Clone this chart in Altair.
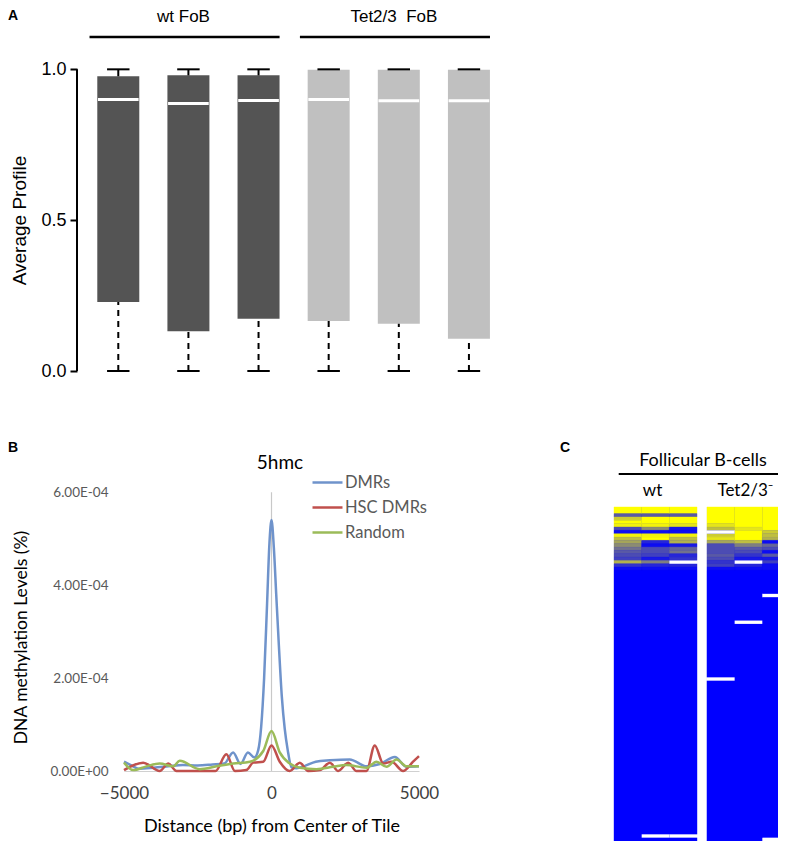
import altair as alt
import pandas as pd

# ---------------- Panel A : box summaries ----------------
box_groups = ["wt FoB", "wt FoB", "wt FoB", "Tet2/3\u00a0\u00a0FoB", "Tet2/3\u00a0\u00a0FoB", "Tet2/3\u00a0\u00a0FoB"]
box_min = [0.0, 0.0, 0.0, 0.0, 0.0, 0.0]
box_q1 = [0.229, 0.132, 0.173, 0.166, 0.157, 0.107]
box_median = [0.900, 0.887, 0.897, 0.900, 0.896, 0.896]
box_q3 = [0.977, 0.980, 0.980, 0.999, 0.999, 0.999]
box_max = [1.0, 1.0, 1.0, 1.0, 1.0, 1.0]
group_order = ["wt FoB", "Tet2/3\u00a0\u00a0FoB"]

# ---------------- Panel B : 5hmc profiles (values in units of 1e-4) ----------------
dmrs_x = [-5000, -4750, -4500, -4000, -3500, -3000, -2500, -2000, -1600, -1300, -1050, -800, -580,
          -450, -350, -250, -150, -70, 0, 80, 160, 250, 350, 450, 550, 680, 850, 1100, 1500, 1980,
          2650, 3220, 3670, 4180, 4580, 5000]
dmrs_v = [0.20, 0.12, 0.05, 0.07, 0.10, 0.13, 0.12, 0.14, 0.16, 0.40, 0.15, 0.40, 0.29,
          0.45, 0.95, 2.0, 3.6, 4.9, 5.4, 4.8, 3.8, 2.7, 1.6, 0.9, 0.45, 0.08, 0.06, 0.10, 0.20, 0.23,
          0.25, 0.10, 0.15, 0.30, 0.09, 0.10]
hsc_x = [-5000, -4350, -3790, -3500, -3220, -2500, -1900, -1530, -1240, -850, -620, -280, 0, 280,
         620, 960, 1240, 1640, 1980, 2260, 2600, 2880, 3220, 3500, 3790, 4070, 4460, 4800, 5000]
hsc_v = [0.02, 0.18, 0.00, 0.16, 0.00, 0.00, 0.00, 0.36, 0.00, 0.02, 0.18, 0.20, 0.55, 0.20,
         0.00, 0.18, 0.00, 0.02, 0.18, 0.00, 0.18, 0.00, 0.00, 0.55, 0.16, 0.20, 0.00, 0.20, 0.32]
rnd_x = [-5000, -4690, -4240, -3790, -3330, -3110, -2430, -1860, -1300, -730, -280, 0, 280, 620,
         960, 1525, 2090, 2540, 3220, 3560, 3900, 4240, 4580, 5000]
rnd_v = [0.18, 0.02, 0.10, 0.16, 0.10, 0.22, 0.04, 0.10, 0.16, 0.20, 0.43, 0.86, 0.40, 0.16,
         0.07, 0.04, 0.09, 0.13, 0.07, 0.20, 0.09, 0.25, 0.10, 0.10]
series_order = ["DMRs", "HSC DMRs", "Random"]

# ---------------- Panel C : heatmap (top rows read cell by cell, None = white) ----------------
heat_groups = ["wt", "Tet2/3\u207b"]
wt_c1 = [1, 1, 0.35, 0.8, 1, 0.95, 0.3, 0.05, 0.95, 0.75, 0.65, 0.55, 0.45, 0.35, 0.3, 0.25, 0.7, 0.2, 0.05]
wt_c2 = [1, 1, 0.35, 1, 1, 0.95, 0.55, 0.05, 0.95, 1, 0.15, 0.05, 0.3, 0.3, 0.25, 0.1, 0.5, 0.15, 0.05]
wt_c3 = [1, 1, 0.35, 1, 1, 0.9, 0.1, 0.05, 0.95, 0.75, 0.7, 0.1, 0.4, 0.45, 0.15, 0.2, None, 0.15, 0.05]
tet_c1 = [1, 1, 1, 1, 1, 0.9, 0.75, None, 0.8, 0.9, 0.65, 0.3, 0.3, 0.3, 0.35, 0.3, 0.2, 0.25, 0.05]
tet_c2 = [1, 1, 1, 1, 1, 1, 0.9, 1, 1, 1, 0.75, 0.5, 0.35, 0.3, 0.2, 0.1, None, 0.15, 0.05]
tet_c3 = [1, 1, 1, 1, 1, 1, 1, 0.8, 0.75, 0.7, 0.05, 0.4, 0.3, 0.05, 0.35, 0.1, 0.25, 0.05, 0.05]
n_rows = 100
lower_value = 0.0   # every remaining row is plain blue
white_cells = [("Tet2/3\u207b", 2, 26), ("Tet2/3\u207b", 1, 34), ("Tet2/3\u207b", 0, 51),
               ("wt", 1, 98), ("wt", 2, 98), ("Tet2/3\u207b", 2, 99)]

# ======================= build panel A =======================
dfA = pd.DataFrame({"group": box_groups, "lo": box_min, "q1": box_q1, "med": box_median,
                    "q3": box_q3, "hi": box_max, "pos": list(range(1, 7))})
gA = dfA.groupby("group", sort=False)["pos"].agg(["min", "max"]).reset_index()
gA["center"] = (gA["min"] + gA["max"]) / 2 - 0.07
gA["start"] = gA["min"] - 0.41
gA["end"] = gA["max"] + 0.3

# the plot origin is shared with panel B below; the y axis is pushed out with an offset
AX_OFF = 47
STEP = 72
xsA = alt.Scale(domain=[0.5 + AX_OFF / STEP, 6.5], nice=False, zero=False)
ysA = alt.Scale(domain=[0, 1.2], nice=False, zero=False)
YT = "Average Profile"
FA = "Liberation Sans"
WA = int(round((6.5 - 0.5) * STEP - AX_OFF))

baseA = alt.Chart(dfA)
barsA = baseA.mark_bar(size=42).encode(
    x=alt.X("pos:Q", scale=xsA, axis=None),
    y=alt.Y("q1:Q", scale=ysA, title=YT,
            axis=alt.Axis(values=[0, 0.5, 1.0], format=".1f", domain=False, grid=False,
                          offset=AX_OFF,
                          tickSize=7, tickWidth=2, tickColor="black",
                          labelFontSize=18, labelColor="black", labelFont=FA, labelPadding=4,
                          titleFont=FA, titleFontSize=19, titleFontWeight="normal",
                          titleColor="black", titleY=211, titleX=-48)),
    y2="q3:Q",
    color=alt.Color("group:N", scale=alt.Scale(domain=group_order, range=["#545454", "#c0c0c0"]),
                    legend=None),
)
medA = baseA.transform_calculate(xl="datum.pos - 0.29", xr="datum.pos + 0.29").mark_rule(
    color="white", strokeWidth=3).encode(
    x=alt.X("xl:Q", scale=xsA, axis=None), x2="xr:Q", y=alt.Y("med:Q", scale=ysA, title=YT))
upA = baseA.mark_rule(color="black", strokeWidth=2).encode(
    x=alt.X("pos:Q", scale=xsA, axis=None), y=alt.Y("q3:Q", scale=ysA, title=YT), y2="hi:Q")
downA = baseA.mark_rule(color="black", strokeWidth=2, strokeDash=[6, 5]).encode(
    x=alt.X("pos:Q", scale=xsA, axis=None), y=alt.Y("lo:Q", scale=ysA, title=YT), y2="q1:Q")
capsBase = baseA.transform_calculate(cl="datum.pos - 0.16", cr="datum.pos + 0.16")
capTop = capsBase.mark_rule(color="black", strokeWidth=2).encode(
    x=alt.X("cl:Q", scale=xsA, axis=None), x2="cr:Q", y=alt.Y("hi:Q", scale=ysA, title=YT))
capBot = capsBase.mark_rule(color="black", strokeWidth=2).encode(
    x=alt.X("cl:Q", scale=xsA, axis=None), x2="cr:Q", y=alt.Y("lo:Q", scale=ysA, title=YT))
axisLineA = alt.Chart(pd.DataFrame({"a": [0.0], "b": [1.0]})).mark_rule(
    color="black", strokeWidth=2).encode(
    x=alt.value(-AX_OFF), y=alt.Y("a:Q", scale=ysA, title=YT), y2="b:Q")
headTextA = alt.Chart(gA).mark_text(font=FA, fontSize=17, baseline="top", color="black").encode(
    x=alt.X("center:Q", scale=xsA, axis=None), y=alt.value(0), text="group:N")
headLineA = alt.Chart(gA).mark_rule(color="black", strokeWidth=2.5).encode(
    x=alt.X("start:Q", scale=xsA, axis=None), x2="end:Q", y=alt.value(28))
letterA = alt.Chart(pd.DataFrame({"t": ["A"]})).mark_text(
    font="Liberation Sans", fontSize=14, fontWeight="bold", baseline="top", align="left").encode(
    x=alt.value(-116), y=alt.value(0), text="t:N")

chartA = alt.layer(barsA, medA, upA, downA, capTop, capBot, axisLineA,
                   headTextA, headLineA, letterA).properties(width=WA, height=362)

# ======================= build panel B =======================
rows = []
for name, xs, vs in [("DMRs", dmrs_x, dmrs_v), ("HSC DMRs", hsc_x, hsc_v), ("Random", rnd_x, rnd_v)]:
    for xv, vv in zip(xs, vs):
        rows.append({"series": name, "x": xv, "v": vv * 1e-4})
dfB = pd.DataFrame(rows)

FB = "Lato"
xsB = alt.Scale(domain=[-5000, 5000], nice=False, zero=False)
ysB = alt.Scale(domain=[0, 7.1e-4], nice=False, zero=False)
YTB = "DNA methylation Levels (%)"
XTB = "Distance (bp) from Center of Tile"

linesB = alt.Chart(dfB).mark_line(interpolate="monotone", strokeWidth=2.5).encode(
    x=alt.X("x:Q", scale=xsB, title=XTB,
            axis=alt.Axis(values=[-5000, 0, 5000], format="d", ticks=False, grid=False,
                          labelFlush=False, labelOverlap=False,
                          domainColor="#d0d0d0", domainWidth=1.2,
                          labelFont=FB, labelFontSize=17, labelColor="#404040", labelPadding=14,
                          titleFont=FB, titleFontSize=18, titleFontWeight="normal",
                          titleColor="black", titlePadding=16)),
    y=alt.Y("v:Q", scale=ysB, title=YTB,
            axis=alt.Axis(values=[0, 2e-4, 4e-4, 6e-4], domain=False, ticks=False, grid=False,
                          labelExpr="datum.value == 0 ? '0.00E+00' : format(datum.value * 10000, '.2f') + 'E-04'",
                          labelFont=FB, labelFontSize=13.5, labelColor="#595959", labelPadding=16,
                          titleFont=FB, titleFontSize=17.5, titleFontWeight="normal",
                          titleColor="black", titleY=196, titleX=-94)),
    color=alt.Color("series:N",
                    scale=alt.Scale(domain=series_order, range=["#6f93cb", "#c0504d", "#9bbb59"]),
                    legend=alt.Legend(orient="none", legendX=187, legendY=25, title=None,
                                      symbolType="stroke", symbolSize=900, symbolStrokeWidth=2.5,
                                      labelFont=FB, labelFontSize=16.5, labelColor="#595959",
                                      labelOffset=1, rowPadding=0, padding=0)),
    order="x:Q",
)
zeroLineB = alt.Chart(pd.DataFrame({"x": [0], "a": [0.0], "b": [6e-4]})).mark_rule(
    color="#c8c8c8", strokeWidth=1.2).encode(
    x=alt.X("x:Q", scale=xsB, title=XTB), y=alt.Y("a:Q", scale=ysB, title=YTB), y2="b:Q")
titleB = alt.Chart(pd.DataFrame({"t": ["5hmc"]})).mark_text(
    font=FB, fontSize=19, baseline="middle", color="black").encode(
    x=alt.value(156), y=alt.value(22), text="t:N")
letterB = alt.Chart(pd.DataFrame({"t": ["B"]})).mark_text(
    font="Liberation Sans", fontSize=14, fontWeight="bold", baseline="top", align="left").encode(
    x=alt.value(-116), y=alt.value(0), text="t:N")
chartB = alt.layer(zeroLineB, linesB, titleB, letterB).properties(width=295, height=330)

# ======================= build panel C =======================
GAP = 0.36
COLW = 27.67          # pixel width of one heatmap column
C_LEFT = -2.06        # room on the left of the heatmap for the panel letter
C_WIDTH = 221         # the heatmap runs off the right edge of the figure
FULL_RIGHT = 2 * 3 + GAP
cols = {("wt", 0): wt_c1, ("wt", 1): wt_c2, ("wt", 2): wt_c3,
        ("Tet2/3\u207b", 0): tet_c1, ("Tet2/3\u207b", 1): tet_c2, ("Tet2/3\u207b", 2): tet_c3}
white_set = set(white_cells)
cells = []
for gi, g in enumerate(heat_groups):
    for c in range(3):
        top = cols[(g, c)]
        x0 = gi * (3 + GAP) + c
        run = None  # merge runs of identical values into one rectangle
        for r in range(n_rows):
            v = top[r] if r < len(top) else lower_value
            if (g, c, r) in white_set:
                v = None
            if run is not None and v is not None and v == run["v"]:
                run["r1"] = r + 1
                continue
            if run is not None:
                cells.append(run)
                run = None
            if v is not None:
                run = {"g": g, "x0": x0, "x1": x0 + 1, "r0": r, "r1": r + 1, "v": v}
        if run is not None:
            cells.append(run)
dfC = pd.DataFrame(cells)

# blocks (one per group, base colour of the lower rows) and the empty (white) cells
dfBlock = pd.DataFrame({"g": heat_groups,
                        "x0": [gi * (3 + GAP) for gi in range(len(heat_groups))],
                        "x1": [gi * (3 + GAP) + 3 for gi in range(len(heat_groups))],
                        "r0": [0] * len(heat_groups), "r1": [n_rows] * len(heat_groups),
                        "v": [lower_value] * len(heat_groups)})
dfWhite = pd.DataFrame([{"x0": heat_groups.index(g) * (3 + GAP) + c,
                         "x1": heat_groups.index(g) * (3 + GAP) + c + 1,
                         "r0": r, "r1": r + 1} for (g, c, r) in white_cells] +
                       [{"x0": heat_groups.index(g) * (3 + GAP) + ci,
                         "x1": heat_groups.index(g) * (3 + GAP) + ci + 1,
                         "r0": r, "r1": r + 1}
                        for (g, ci), col in cols.items() for r, v in enumerate(col) if v is None])
gC = pd.DataFrame({"g": heat_groups,
                   "cx": [gi * (3 + GAP) + 1.5 for gi in range(len(heat_groups))]})

C_RIGHT = C_LEFT + C_WIDTH / COLW
xsC = alt.Scale(domain=[C_LEFT, C_RIGHT], nice=False, zero=False)
ysC = alt.Scale(domain=[-19.76, n_rows], nice=False, zero=False, reverse=True)
colC = alt.Scale(domain=[0, 0.5, 1], range=["#0000ff", "#7f7f80", "#ffff00"], interpolate="rgb")

blockC = alt.Chart(dfBlock).mark_rect(clip=True).encode(
    x=alt.X("x0:Q", scale=xsC, axis=None), x2="x1:Q",
    y=alt.Y("r0:Q", scale=ysC, axis=None), y2="r1:Q",
    color=alt.Color("v:Q", scale=colC, legend=None),
)
rectC = alt.Chart(dfC).mark_rect(strokeWidth=0.4, clip=True).encode(
    x=alt.X("x0:Q", scale=xsC, axis=None), x2="x1:Q",
    y=alt.Y("r0:Q", scale=ysC, axis=None), y2="r1:Q",
    color=alt.Color("v:Q", scale=colC, legend=None),
    stroke=alt.Stroke("v:Q", scale=colC, legend=None),
)
whiteC = alt.Chart(dfWhite).mark_rect(color="white", clip=True).encode(
    x=alt.X("x0:Q", scale=xsC, axis=None), x2="x1:Q",
    y=alt.Y("r0:Q", scale=ysC, axis=None), y2="r1:Q",
)
groupTextC = alt.Chart(gC).mark_text(font=FB, fontSize=17, baseline="middle", color="black",
                                     dx=-3).encode(
    x=alt.X("cx:Q", scale=xsC, axis=None), y=alt.value(50), text="g:N")
spanC = pd.DataFrame({"t": ["Follicular B-cells"], "s": [0.17], "e": [C_RIGHT],
                      "m": [(0.17 + FULL_RIGHT - 0.1) / 2]})
headTextC = alt.Chart(spanC).mark_text(font=FB, fontSize=18, baseline="middle", color="black").encode(
    x=alt.X("m:Q", scale=xsC, axis=None), y=alt.value(20), text="t:N")
headLineC = alt.Chart(spanC).mark_rule(color="black", strokeWidth=2).encode(
    x=alt.X("s:Q", scale=xsC, axis=None), x2="e:Q", y=alt.value(33))
letterC = alt.Chart(pd.DataFrame({"t": ["C"]})).mark_text(
    font="Liberation Sans", fontSize=14, fontWeight="bold", baseline="top", align="left").encode(
    x=alt.value(3), y=alt.value(0), text="t:N")
chartC = alt.layer(blockC, rectC, whiteC, groupTextC, headTextC, headLineC,
                   letterC).properties(width=C_WIDTH, height=400)

chart = alt.vconcat(
    chartA,
    alt.hconcat(chartB, chartC, spacing=118),
    spacing=61,
).properties(padding=0).configure_view(stroke=None)

chart.save("out.html", embed_options={"renderer": "svg", "actions": False})
